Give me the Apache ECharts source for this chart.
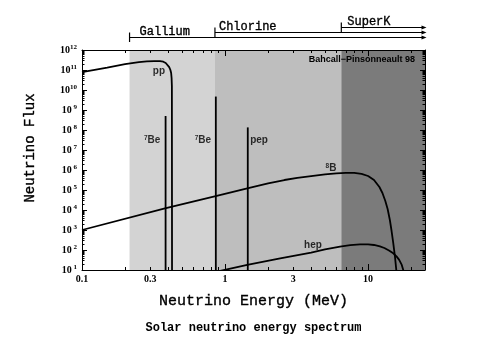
<!DOCTYPE html>
<html><head><meta charset="utf-8">
<script src="https://cdn.jsdelivr.net/npm/echarts@6/dist/echarts.min.js"></script>
<style>html,body{margin:0;padding:0;background:#fff}#c{width:485px;height:342px}</style>
</head><body><div id="c"></div>
<script>
// ---- data ----
const energyTicks = [0.1, 0.3, 1, 3, 10];
const energyTickLabels = ['0.1', '0.3', '1', '3', '10'];
const energyMajorTicks = [0.1, 1, 10];
const energyMinorTicks = [0.2,0.3,0.4,0.5,0.6,0.7,0.8,0.9,2,3,4,5,6,7,8,9,20];
const energyMin = 0.1, energyMax = 25;
const fluxExpMin = 1, fluxExpMax = 12;

const ppEnergy = [0.1, 0.15, 0.2, 0.25, 0.284, 0.32, 0.351, 0.37, 0.385, 0.397, 0.407, 0.415, 0.42, 0.423, 0.425, 0.426];
const ppFlux = [7.9e10, 1.32e11, 1.95e11, 2.45e11, 2.7e11, 2.8e11, 2.8e11, 2.6e11, 2.25e11, 1.8e11, 1.4e11, 1.0e11, 7.1e10, 4.0e10, 1.6e10, 1e1];

const b8Energy = [0.1, 0.38, 0.86, 1.43, 2.0, 2.6, 3.2, 4.0, 5.0, 6.0, 7.0, 8.0, 9.0, 10.0, 11.0, 12.0, 12.6, 13.2, 13.7, 14.2, 14.6, 15.0, 15.4, 15.8];
const b8Flux = [1e3, 1.2e4, 5.0e4, 1.2e5, 2.14e5, 3.16e5, 4.07e5, 5.0e5, 6.03e5, 6.76e5, 7.24e5, 7.24e5, 6.46e5, 5.0e5, 3.16e5, 1.41e5, 7.1e4, 2.8e4, 1.12e4, 3.16e3, 8.9e2, 2.2e2, 50, 8];

const hepEnergy = [0.85, 1.43, 2.43, 4.0, 5.0, 6.37, 7.5, 8.79, 10.0, 11.0, 12.1, 13.0, 14.0, 15.0, 15.8, 16.5, 17.2, 17.7, 18.2];
const hepFlux = [7.9, 18, 38, 74, 107, 148, 174, 190, 190, 178, 151, 126, 95, 68, 48, 32, 18, 8.9, 3.2];

const lineSources = ['7Be', '7Be', 'pep'];
const lineEnergy = [0.384, 0.862, 1.442];
const lineFlux = [5.0e8, 4.7e9, 1.35e8];

const detectorNames = ['Gallium', 'Chlorine', 'SuperK'];
const detectorThreshold = [0.215, 0.85, 6.5];
const detectorColors = ['#d3d3d3', '#bebebe', '#7b7b7b'];

const labelTexts = ['pp', '7Be', '7Be', 'pep', '8B', 'hep'];
const labelEnergy = [0.345, 0.309, 0.70, 1.73, 5.5, 4.12];
const labelFlux = [8.9e10, 3.2e7, 3.2e7, 3.2e7, 1.26e6, 178];

const modelNote = 'Bahcall\u2212Pinsonneault 98';
const xTitle = 'Neutrino Energy (MeV)';
const yTitle = 'Neutrino Flux';
const chartTitle = 'Solar neutrino energy spectrum';

// ---- chart ----
(function () {
const L = Math.log10;
const pairs = (E, F) => E.map((e, i) => [L(e), L(F[i])]);
const chart = echarts.init(document.getElementById('c'), null, {renderer: 'canvas'});

const yMajor = [], yMinor = [];
for (let n = fluxExpMin; n <= fluxExpMax; n++) yMajor.push(n);
for (let n = fluxExpMin; n < fluxExpMax; n++) for (let k = 2; k <= 9; k++) yMinor.push(n + L(k));

const lineOn = {show: true, onZero: false, lineStyle: {color: '#000', width: 1}};
const xBase = {type: 'value', min: L(energyMin), max: L(energyMax), splitLine: {show: false}, axisLine: lineOn, axisTick: {show: false}, z: 10};
const yBase = {type: 'value', min: fluxExpMin, max: fluxExpMax, interval: 1, splitLine: {show: false}, axisLine: lineOn, axisTick: {show: false}, z: 10};

const xLabelFmt = v => {
  const i = energyTicks.findIndex(t => Math.abs(L(t) - v) < 1e-6);
  return i >= 0 ? energyTickLabels[i] : '';
};

const labelRich = {
  b: {fontFamily: 'Liberation Sans', fontWeight: 'bold', fontSize: 10, color: '#000'},
  s: {fontFamily: 'Liberation Sans', fontWeight: 'bold', fontSize: 6.5, color: '#000', verticalAlign: 'top'}
};
const labelFmt = t => {
  if (t === '7Be') return '{s|7}{b|Be}';
  if (t === '8B') return '{s|8}{b|B}';
  return '{b|' + t + '}';
};

const series = [];
series.push({
  type: 'line', data: [], z: 1, silent: true, xAxisIndex: 0, yAxisIndex: 0,
  markArea: {
    silent: true,
    data: detectorThreshold.map((t, i) => [
      {xAxis: L(t), itemStyle: {color: detectorColors[i]}},
      {xAxis: L(i + 1 < detectorThreshold.length ? detectorThreshold[i + 1] : energyMax)}
    ])
  }
});
const lineStyle = {color: '#000', width: 1.8};
[[ppEnergy, ppFlux, 'pp'], [b8Energy, b8Flux, '8B'], [hepEnergy, hepFlux, 'hep']].forEach(([E, F, n]) => {
  series.push({type: 'line', name: n, data: pairs(E, F), showSymbol: false, symbol: 'none', lineStyle, z: 3, clip: true, silent: true});
});
lineEnergy.forEach((e, i) => {
  series.push({type: 'line', name: lineSources[i], data: [[L(e), fluxExpMin], [L(e), L(lineFlux[i])]], symbol: 'none', lineStyle, z: 3, clip: true, silent: true});
});
series.push({
  type: 'scatter', data: labelEnergy.map((e, i) => [L(e), L(labelFlux[i])]),
  symbolSize: 0.1, itemStyle: {color: 'rgba(0,0,0,0)'}, z: 4, silent: true,
  label: {show: true, position: 'inside', formatter: p => labelFmt(labelTexts[p.dataIndex]), rich: labelRich}
});

const ax = (base, o) => Object.assign({}, base, o);
const option = {
  animation: false,
  backgroundColor: '#fff',
  grid: {left: 82, right: 60, top: 50, bottom: 72, containLabel: false, outerBoundsMode: 'none'},
  xAxis: [
    ax(xBase, {position: 'bottom',
      axisLabel: {customValues: energyTicks.map(L), formatter: xLabelFmt, margin: 4,
        fontFamily: 'Liberation Serif', fontWeight: 'bold', fontSize: 10, color: '#000'}}),
    ax(xBase, {position: 'top', axisLabel: {show: false}})
  ],
  yAxis: [
    ax(yBase, {position: 'left',
      axisLabel: {margin: 5, formatter: v => '{a|10}{s|' + (v < 10 ? ' ' + v : v) + '}',
        rich: {
          a: {fontFamily: 'Liberation Serif', fontWeight: 'bold', fontSize: 10, color: '#000', lineHeight: 12},
          s: {fontFamily: 'Liberation Serif', fontWeight: 'bold', fontSize: 7, color: '#000', verticalAlign: 'top', lineHeight: 12}
        }}}),
    ax(yBase, {position: 'right', axisLabel: {show: false}})
  ],
  series
};
chart.setOption(option);

const gx = e => chart.convertToPixel({xAxisIndex: 0}, L(e));
const gy = f => chart.convertToPixel({yAxisIndex: 0}, f);
const pLeft = gx(energyMin), pRight = gx(energyMax);
const pTop = gy(fluxExpMax), pBottom = gy(fluxExpMin);
const cx = (pLeft + pRight) / 2;
const graphic = [];
const tickLine = (x1, y1, x2, y2) => graphic.push({type: 'line', z: 20, silent: true,
  shape: {x1, y1, x2, y2}, style: {stroke: '#000', lineWidth: 1}});
const snap = v => Math.round(v) + 0.5;
// inward ticks, placed through the axis scales
energyMajorTicks.forEach(t => { const x = snap(gx(t)); tickLine(x, pBottom, x, pBottom - 6); tickLine(x, pTop, x, pTop + 6); });
energyMinorTicks.forEach(t => { const x = snap(gx(t)); tickLine(x, pBottom, x, pBottom - 3); tickLine(x, pTop, x, pTop + 3); });
yMajor.forEach(v => { const y = snap(gy(v)); tickLine(pLeft, y, pLeft + 5, y); tickLine(pRight, y, pRight - 5, y); });
yMinor.forEach(v => { const y = snap(gy(v)); tickLine(pLeft, y, pLeft + 2.5, y); tickLine(pRight, y, pRight - 2.5, y); });

const labelDx = [10, 4, 6];
const heavy = {stroke: '#000', lineWidth: 0.35};
detectorThreshold.forEach((t, i) => {
  const x0 = gx(t);
  const y = pTop - 12.5 - 5 * i;
  const xe = pRight + 1.5;
  graphic.push({type: 'line', shape: {x1: x0, y1: y, x2: xe - 3, y2: y}, style: {stroke: '#000', lineWidth: 1.2}, silent: true});
  graphic.push({type: 'line', shape: {x1: x0, y1: y - 5, x2: x0, y2: y + 4.5}, style: {stroke: '#000', lineWidth: 1.2}, silent: true});
  graphic.push({type: 'polygon', shape: {points: [[xe, y], [xe - 5, y - 2], [xe - 5, y + 2]]}, style: {fill: '#000'}, silent: true});
  graphic.push({type: 'text', x: x0 + labelDx[i], y: y - 5.5, style: Object.assign({text: detectorNames[i], fill: '#000',
    font: '12px "Liberation Mono"', textAlign: 'left', textVerticalAlign: 'middle'}, heavy), silent: true});
});
graphic.push({type: 'text', x: pRight - 10, y: pTop + 9.5, z: 10, style: {text: modelNote, fill: '#000',
  font: 'bold 9px "Liberation Sans"', textAlign: 'right', textVerticalAlign: 'middle'}, silent: true});
graphic.push({type: 'text', x: cx, y: 301, style: Object.assign({text: xTitle, fill: '#000',
  font: '15px "Liberation Mono"', textAlign: 'center', textVerticalAlign: 'middle'}, heavy), silent: true});
graphic.push({type: 'text', x: 30, y: 148, rotation: Math.PI / 2, style: Object.assign({text: yTitle, fill: '#000',
  font: '14px "Liberation Mono"', textAlign: 'center', textVerticalAlign: 'middle'}, heavy), silent: true});
graphic.push({type: 'text', x: cx, y: 328, style: {text: chartTitle, fill: '#000',
  font: 'bold 12px "Liberation Mono"', textAlign: 'center', textVerticalAlign: 'middle'}, silent: true});
chart.setOption({graphic});
})();
</script>
</body></html>
